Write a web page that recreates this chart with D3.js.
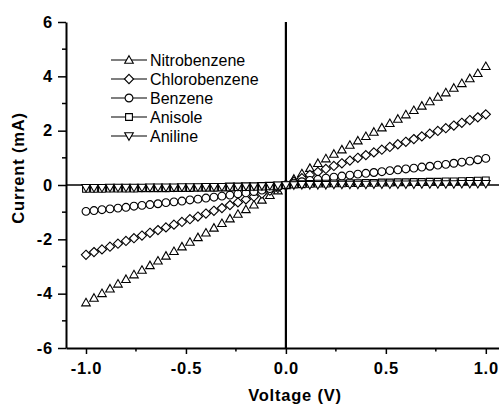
<!DOCTYPE html>
<html>
<head>
<meta charset="utf-8">
<script src="https://cdn.jsdelivr.net/npm/d3@7"></script>
<style>
  body { margin: 0; background: #fff; }
  text { font-family: Arial, "Liberation Sans", sans-serif; fill: #000; }
  .tick-label { font-size: 16.5px; font-weight: bold; letter-spacing: 0.8px; }
  .axis-title { font-size: 16.5px; font-weight: bold; letter-spacing: 0.8px; }
  .legend-text { font-size: 16px; }
</style>
</head>
<body>
<div id="chart"></div>
<script>
// voltage sweep (V)
var voltage = [-1.00, -0.96, -0.92, -0.88, -0.84, -0.80, -0.76, -0.72, -0.68, -0.64,
               -0.60, -0.56, -0.52, -0.48, -0.44, -0.40, -0.36, -0.32, -0.28, -0.24,
               -0.20, -0.16, -0.12, -0.08, -0.04, 0.00, 0.04, 0.08, 0.12, 0.16,
               0.20, 0.24, 0.28, 0.32, 0.36, 0.40, 0.44, 0.48, 0.52, 0.56,
               0.60, 0.64, 0.68, 0.72, 0.76, 0.80, 0.84, 0.88, 0.92, 0.96, 1.00];

// current (mA) for each solvent
var nitrobenzene = [-4.33, -4.16, -3.99, -3.82, -3.64, -3.47, -3.30, -3.13, -2.96, -2.79,
                    -2.61, -2.44, -2.27, -2.10, -1.93, -1.76, -1.58, -1.41, -1.24, -1.07,
                    -0.90, -0.73, -0.55, -0.38, -0.21, -0.02, 0.22, 0.42, 0.62, 0.80,
                    0.97, 1.14, 1.30, 1.47, 1.63, 1.79, 1.95, 2.11, 2.27, 2.43,
                    2.59, 2.75, 2.91, 3.07, 3.24, 3.40, 3.57, 3.74, 3.92, 4.11, 4.37];
var chlorobenzene = [-2.57, -2.47, -2.37, -2.27, -2.16, -2.06, -1.96, -1.86, -1.76, -1.66,
                     -1.56, -1.46, -1.36, -1.26, -1.16, -1.05, -0.95, -0.85, -0.74, -0.64,
                     -0.53, -0.43, -0.32, -0.21, -0.11, 0.00, 0.13, 0.25, 0.37, 0.48,
                     0.59, 0.70, 0.80, 0.90, 1.00, 1.10, 1.20, 1.30, 1.40, 1.50,
                     1.59, 1.69, 1.79, 1.89, 1.99, 2.09, 2.19, 2.29, 2.39, 2.49, 2.60];
var benzene = [-0.97, -0.94, -0.91, -0.88, -0.85, -0.82, -0.78, -0.75, -0.72, -0.69,
               -0.65, -0.62, -0.59, -0.55, -0.52, -0.48, -0.45, -0.41, -0.37, -0.33,
               -0.29, -0.24, -0.19, -0.13, -0.07, 0.00, 0.07, 0.12, 0.17, 0.21,
               0.25, 0.29, 0.33, 0.36, 0.40, 0.43, 0.46, 0.49, 0.53, 0.56,
               0.59, 0.62, 0.66, 0.69, 0.73, 0.76, 0.80, 0.84, 0.88, 0.93, 0.98];
var anisole = [-0.14, -0.14, -0.14, -0.13, -0.13, -0.13, -0.13, -0.12, -0.12, -0.12,
               -0.12, -0.11, -0.11, -0.11, -0.10, -0.10, -0.10, -0.09, -0.09, -0.08,
               -0.08, -0.07, -0.06, -0.05, -0.03, 0.00, 0.02, 0.03, 0.04, 0.05,
               0.05, 0.06, 0.06, 0.07, 0.07, 0.08, 0.08, 0.09, 0.09, 0.10,
               0.10, 0.11, 0.11, 0.12, 0.12, 0.13, 0.13, 0.14, 0.15, 0.16, 0.17];
var aniline = [-0.10, -0.10, -0.10, -0.09, -0.09, -0.09, -0.09, -0.09, -0.08, -0.08,
               -0.08, -0.08, -0.07, -0.07, -0.07, -0.06, -0.06, -0.06, -0.05, -0.05,
               -0.04, -0.04, -0.03, -0.02, -0.01, 0.00, 0.00, 0.01, 0.01, 0.01,
               0.01, 0.02, 0.02, 0.02, 0.02, 0.02, 0.03, 0.03, 0.03, 0.03,
               0.03, 0.03, 0.04, 0.04, 0.04, 0.04, 0.04, 0.05, 0.05, 0.05, 0.05];

var seriesNames = ["Nitrobenzene", "Chlorobenzene", "Benzene", "Anisole", "Aniline"];
var seriesShapes = ["triangle", "diamond", "circle", "square", "triangleDown"];
var seriesValues = [nitrobenzene, chlorobenzene, benzene, anisole, aniline];

var xTicks = [-1.0, -0.5, 0.0, 0.5, 1.0];
var xMinorTicks = [-0.75, -0.25, 0.25, 0.75];
var yTicks = [-6, -4, -2, 0, 2, 4, 6];
var yMinorTicks = [-5, -3, -1, 1, 3, 5];

// set the dimensions
var width = 499, height = 407;
var plot = {left: 66, right: 499, top: 22, bottom: 348};

var x = d3.scaleLinear().domain([-1.1, 1.066]).range([plot.left, plot.right]);
var y = d3.scaleLinear().domain([-6, 6]).range([plot.bottom, plot.top]);

var svg = d3.select("#chart").append("svg")
    .attr("width", width)
    .attr("height", height);

// marker path around 0,0
function marker(shape) {
  if (shape == "triangle") return "M0,-4.3L4.3,3.2L-4.3,3.2Z";
  if (shape == "triangleDown") return "M0,4.3L4.3,-3.2L-4.3,-3.2Z";
  if (shape == "diamond") return "M0,-4.6L4.6,0L0,4.6L-4.6,0Z";
  if (shape == "square") return "M-3.4,-3.4H3.4V3.4H-3.4Z";
  return circlePath(3.9);
}
function circlePath(r) {
  var p = d3.path();
  p.arc(0, 0, r, 0, 2 * Math.PI);
  p.closePath();
  return p.toString();
}

// zero lines
svg.append("line")
    .attr("x1", plot.left).attr("x2", plot.right)
    .attr("y1", y(0)).attr("y2", y(0))
    .style("stroke", "#000").style("stroke-width", 1.6);
svg.append("line")
    .attr("x1", x(0)).attr("x2", x(0))
    .attr("y1", plot.top).attr("y2", plot.bottom)
    .style("stroke", "#000").style("stroke-width", 2.2);

// data points
seriesValues.forEach(function(vals, i) {
  var pts = voltage.map(function(v, j) { return {v: v, c: vals[j]}; });
  svg.append("g").selectAll("path")
      .data(pts)
    .enter().append("path")
      .attr("d", marker(seriesShapes[i]))
      .attr("transform", function(d) { return "translate(" + x(d.v) + "," + y(d.c) + ")"; })
      .style("fill", "#fff")
      .style("stroke", "#000")
      .style("stroke-width", 1.1);
});

// x axis
var xAxis = svg.append("g")
    .attr("transform", "translate(0," + plot.bottom + ")")
    .call(d3.axisBottom(x).tickValues(xTicks).tickSize(6).tickSizeOuter(0));
xAxis.select(".domain").style("stroke-width", 2);
xAxis.selectAll(".tick line").style("stroke-width", 1.5);
xAxis.selectAll(".tick text")
    .attr("class", "tick-label")
    .attr("dy", "1.05em")
    .text(function(d) { return d3.format(".1f")(d).replace("−", "-"); });
xAxis.selectAll(".minor")
    .data(xMinorTicks)
  .enter().append("line")
    .attr("x1", function(d) { return x(d); }).attr("x2", function(d) { return x(d); })
    .attr("y1", 0).attr("y2", 3.5)
    .style("stroke", "#000").style("stroke-width", 1.5);

// y axis
var yAxis = svg.append("g")
    .attr("transform", "translate(" + plot.left + ",0)")
    .call(d3.axisLeft(y).tickValues(yTicks).tickSize(8).tickSizeOuter(0));
yAxis.select(".domain").style("stroke-width", 2);
yAxis.selectAll(".tick line").style("stroke-width", 1.5);
yAxis.selectAll(".tick text")
    .attr("class", "tick-label")
    .attr("x", -13)
    .text(function(d) { return String(d); });
yAxis.selectAll(".minor")
    .data(yMinorTicks)
  .enter().append("line")
    .attr("x1", -4).attr("x2", 0)
    .attr("y1", function(d) { return y(d); }).attr("y2", function(d) { return y(d); })
    .style("stroke", "#000").style("stroke-width", 1.5);
svg.selectAll("g").attr("font-size", null).attr("font-family", null);

// axis titles
svg.append("text")
    .attr("class", "axis-title")
    .attr("text-anchor", "middle")
    .attr("x", 295).attr("y", 401)
    .text("Voltage (V)");
svg.append("text")
    .attr("class", "axis-title")
    .attr("text-anchor", "middle")
    .attr("transform", "translate(24,168)rotate(-90)")
    .text("Current (mA)");

// legend
var legend = svg.append("g");
seriesNames.forEach(function(name, i) {
  var ly = 60 + i * 19;
  legend.append("line")
      .attr("x1", 111).attr("x2", 147)
      .attr("y1", ly).attr("y2", ly)
      .style("stroke", "#000").style("stroke-width", 1.2);
  legend.append("path")
      .attr("d", marker(seriesShapes[i]))
      .attr("transform", "translate(129," + ly + ")")
      .style("fill", "#fff").style("stroke", "#000").style("stroke-width", 1.1);
  legend.append("text")
      .attr("class", "legend-text")
      .attr("x", 150).attr("y", ly)
      .attr("dy", "0.36em")
      .text(name);
});
</script>
</body>
</html>
